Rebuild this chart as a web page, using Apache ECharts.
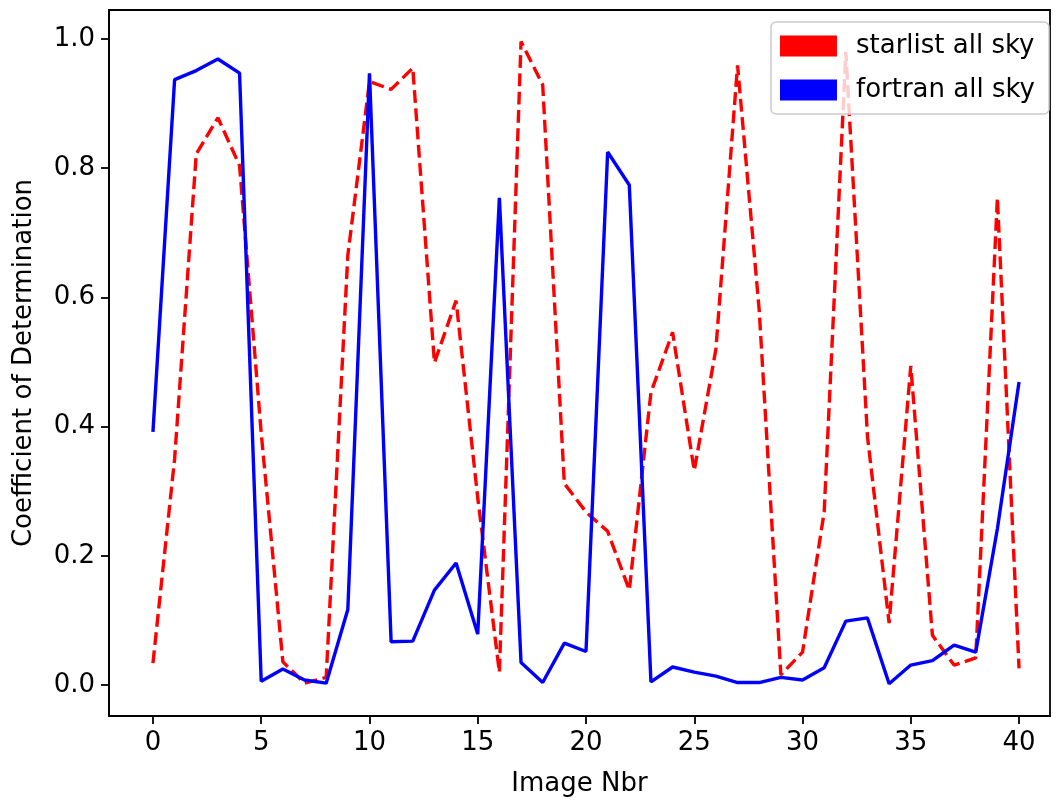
<!DOCTYPE html>
<html>
<head>
<meta charset="utf-8">
<script src="https://cdn.jsdelivr.net/npm/echarts@6/dist/echarts.min.js"></script>
<style>
html,body{margin:0;padding:0;background:#fff;}
#chart{width:1061px;height:802px;}
</style>
</head>
<body>
<div id="chart"></div>
<script>
const imageNbr = [0,1,2,3,4,5,6,7,8,9,10,11,12,13,14,15,16,17,18,19,20,21,22,23,24,25,26,27,28,29,30,31,32,33,34,35,36,37,38,39,40];
const starlistAllSky = [0.034,0.350,0.822,0.878,0.804,0.390,0.036,0.003,0.012,0.665,0.934,0.922,0.955,0.499,0.595,0.290,0.020,0.996,0.929,0.312,0.268,0.238,0.147,0.453,0.546,0.332,0.520,0.959,0.580,0.016,0.051,0.268,0.980,0.385,0.096,0.494,0.077,0.031,0.042,0.754,0.026];
const fortranAllSky = [0.392,0.937,0.951,0.969,0.947,0.006,0.025,0.008,0.003,0.117,0.947,0.067,0.068,0.147,0.189,0.079,0.754,0.035,0.004,0.065,0.052,0.825,0.774,0.005,0.028,0.020,0.014,0.004,0.004,0.012,0.008,0.027,0.099,0.104,0.002,0.031,0.038,0.062,0.051,0.242,0.469];
const xTicks = [0,5,10,15,20,25,30,35,40];
const yTicks = [0.0,0.2,0.4,0.6,0.8,1.0];
const seriesNames = ['starlist all sky','fortran all sky'];

const FONT = 'DejaVu Sans';
const FS = 26;
const chart = echarts.init(document.getElementById('chart'), null, {renderer:'canvas'});
const pair = (vals) => imageNbr.map((x,i) => [x, vals[i]]);

chart.setOption({
  animation:false,
  backgroundColor:'#ffffff',
  textStyle:{fontFamily:FONT},
  grid:{left:109, right:11, top:10, bottom:84, show:true, borderColor:'#000', borderWidth:1.8, backgroundColor:'transparent'},
  legend:{
    orient:'vertical', right:12, top:22,
    data:[
      {name:seriesNames[0], icon:'rect', itemStyle:{color:'#ff0000', borderWidth:0}},
      {name:seriesNames[1], icon:'rect', itemStyle:{color:'#0000ff', borderWidth:0}}
    ],
    itemWidth:57, itemHeight:21, itemGap:18,
    padding:[11,14,11,9],
    backgroundColor:'rgba(255,255,255,0.8)',
    borderColor:'#cccccc', borderWidth:1.5, borderRadius:5,
    textStyle:{fontFamily:FONT, fontSize:FS, color:'#000', padding:[0,0,0,14]}
  },
  xAxis:{
    type:'value', min:-2.03, max:41.43,
    name:'Image Nbr', nameLocation:'middle', nameGap:55,
    nameTextStyle:{fontFamily:FONT, fontSize:FS, color:'#000'},
    axisLine:{show:true, onZero:false, lineStyle:{color:'#000', width:1.8}},
    axisTick:{show:true, inside:false, length:8, lineStyle:{color:'#000', width:1.8}, customValues:xTicks},
    axisLabel:{show:true, margin:14, fontFamily:FONT, fontSize:FS, color:'#000', customValues:xTicks, formatter:(v)=>String(v)},
    splitLine:{show:false}
  },
  yAxis:{
    type:'value', min:-0.0478, max:1.0448,
    name:'Coefficient of Determination', nameLocation:'middle', nameGap:72,
    nameTextStyle:{fontFamily:FONT, fontSize:FS, color:'#000'},
    axisLine:{show:true, onZero:false, lineStyle:{color:'#000', width:1.8}},
    axisTick:{show:true, inside:false, length:8, lineStyle:{color:'#000', width:1.8}, customValues:yTicks},
    axisLabel:{show:true, margin:14, fontFamily:FONT, fontSize:FS, color:'#000', customValues:yTicks, formatter:(v)=>Number(v).toFixed(1)},
    splitLine:{show:false}
  },
  series:[
    {name:seriesNames[0], type:'line', data:pair(starlistAllSky), showSymbol:false, symbol:'none',
     itemStyle:{color:'#ff0000'},
     lineStyle:{color:'#ff0000', width:3.4, type:[12.8,5.5]}, z:2},
    {name:seriesNames[1], type:'line', data:pair(fortranAllSky), showSymbol:false, symbol:'none',
     itemStyle:{color:'#0000ff'},
     lineStyle:{color:'#0000ff', width:3.4, type:'solid'}, z:3}
  ]
});
</script>
</body>
</html>
